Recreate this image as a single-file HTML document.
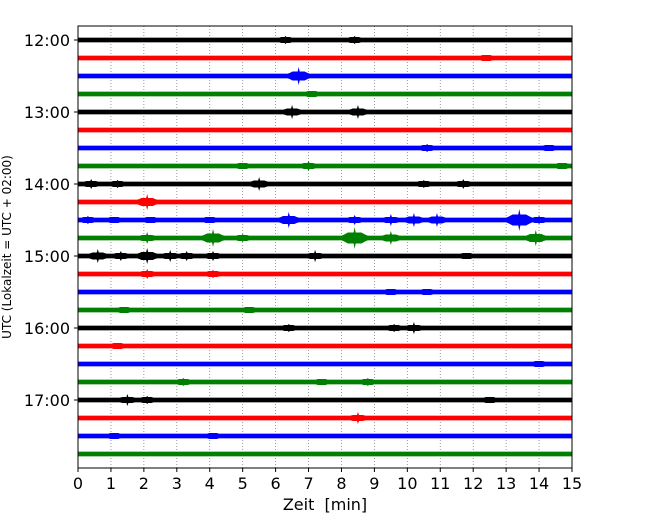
<!DOCTYPE html>
<html><head><meta charset="utf-8"><style>
body{margin:0;background:#fff;}
svg text{font-family:"DejaVu Sans","Liberation Sans",sans-serif;}
</style></head><body>
<svg id="c" width="650" height="520" viewBox="0 0 650 520" xmlns="http://www.w3.org/2000/svg">
<rect width="650" height="520" fill="#fff"/>
<g id="grid"></g>
<g id="traces"></g>
<g id="axes"></g>
</svg>
<script>
const xTicks=[0,1,2,3,4,5,6,7,8,9,10,11,12,13,14,15];
const yTickLabels=["12:00","13:00","14:00","15:00","16:00","17:00"];
const rowCount=24;
const colors=["#000000","#ff0000","#0000ff","#008000"];
// events: [row, minute, amplitude(px)]
const eventRows=[0,0,1,2,3,4,4,6,6,7,7,7,8,8,8,8,8,9,10,10,10,10,10,10,10,10,10,10,10,11,11,11,11,11,11,12,12,12,12,12,12,12,12,13,13,14,14,15,15,16,16,16,17,18,19,19,19,20,20,20,21,22,22];
const eventMinutes=[6.3,8.4,12.4,6.7,7.1,6.5,8.5,10.6,14.3,5.0,7.0,14.7,0.4,1.2,5.5,10.5,11.7,2.1,0.3,1.1,2.2,4.0,6.4,8.4,9.5,10.2,10.9,13.4,14.0,2.1,4.1,5.0,8.4,9.5,13.9,0.6,1.3,2.1,2.8,3.3,4.1,7.2,11.8,2.1,4.1,9.5,10.6,1.4,5.2,6.4,9.6,10.2,1.2,14.0,3.2,7.4,8.8,1.5,2.1,12.5,8.5,1.1,4.1];
const eventAmps=[4,4,3,9,3,7,7,4,3,3,5,3,5,4,7,4,5,8,4,3,3,3,8,5,6,7,7,11,4,6,9,4,11,7,8,7,5,8,6,5,5,6,3,5,4,3,3,3,3,4,4,6,3,3,4,3,4,6,4,3,6,3,3];

const L=78,R=572,T=26,B=468;
const xs=m=>L+m/15*(R-L);
const ys=r=>40+r*18;
const NS="http://www.w3.org/2000/svg";
function mk(tag,attrs,parent){const e=document.createElementNS(NS,tag);for(const k in attrs)e.setAttribute(k,attrs[k]);parent.appendChild(e);return e;}
const grid=document.getElementById('grid'),tr=document.getElementById('traces'),ax=document.getElementById('axes');
xTicks.forEach(t=>{if(t===0||t===15)return;const l=mk('line',{x1:xs(t),x2:xs(t),y1:T,y2:B,stroke:'#808080','stroke-width':0.8,'stroke-dasharray':'1,2'},grid);

});
for(let r=0;r<rowCount;r++){
const h=mk('rect',{x:L,y:ys(r)-3,width:R-L,height:6,fill:colors[r%4],opacity:0.35},tr);


const e=mk('rect',{x:L,y:ys(r)-2,width:R-L,height:4,fill:colors[r%4]},tr);

}
eventRows.forEach((r,i)=>{const x=xs(eventMinutes[i]),y=ys(r),a=eventAmps[i],w=7+a*0.9,m=Math.max(3,a*0.5);
const p=mk('polygon',{points:`${x-w},${y} ${x-w*0.4},${y-m} ${x-1},${y-m} ${x},${y-a} ${x+1},${y-m} ${x+w*0.4},${y-m} ${x+w},${y} ${x+w*0.4},${y+m} ${x+1},${y+m} ${x},${y+a} ${x-1},${y+m} ${x-w*0.4},${y+m}`,fill:colors[r%4]},tr);

});
const fr=mk('rect',{x:L,y:T,width:R-L,height:B-T,fill:'none',stroke:'#000','stroke-width':1},ax);


xTicks.forEach(t=>{mk('line',{x1:xs(t),x2:xs(t),y1:B,y2:B+4,stroke:'#000'},ax);
const tx=mk('text',{x:xs(t),y:B+21,'font-size':16,'text-anchor':'middle'},ax);tx.textContent=t;

});
yTickLabels.forEach((s,i)=>{const y=ys(i*4);mk('line',{x1:L-4,x2:L,y1:y,y2:y,stroke:'#000'},ax);
const tx=mk('text',{x:L-8,y:y+6,'font-size':16,'text-anchor':'end'},ax);tx.textContent=s;

});
</script>
<svg style="position:absolute;left:0;top:0" width="650" height="520">
<text x="325" y="510" font-size="16" text-anchor="middle" font-family="DejaVu Sans, Liberation Sans, sans-serif" xml:space="preserve">Zeit  [min]</text>
<text transform="translate(11,247) rotate(-90)" font-size="12" text-anchor="middle" font-family="DejaVu Sans, Liberation Sans, sans-serif">UTC (Lokalzeit = UTC + 02:00)</text>
</svg>
</body></html>
